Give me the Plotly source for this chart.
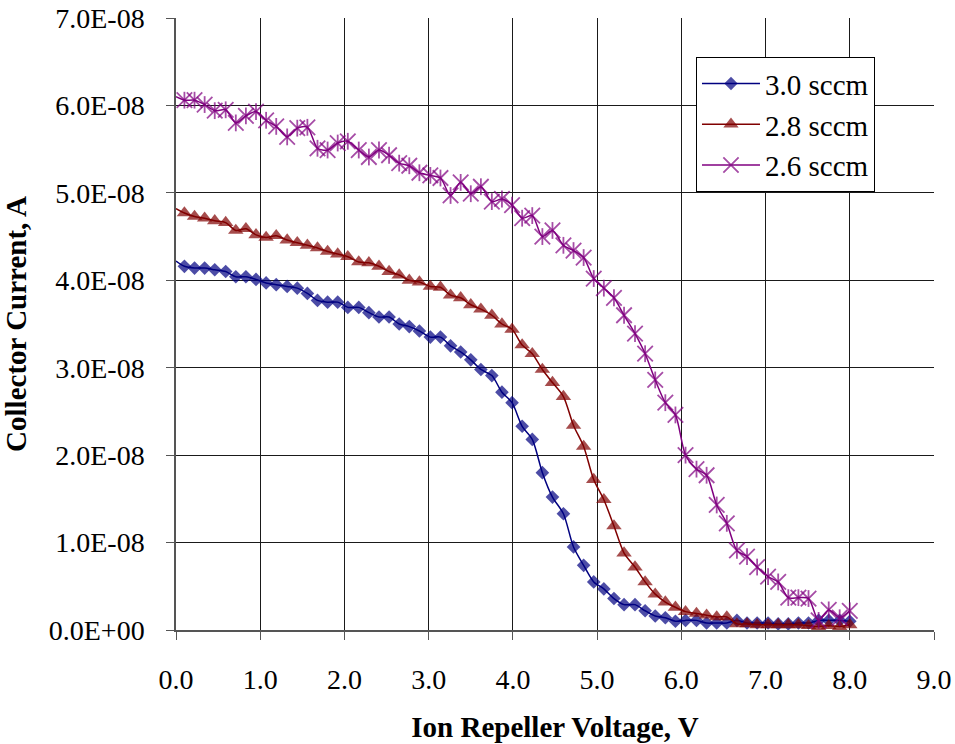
import plotly.graph_objects as go

# Ion repeller voltage (V); the leading 0.0 is the start of the smoothed line (no marker)
volts = [0.00,
         0.10, 0.22, 0.34, 0.46, 0.59, 0.71, 0.83, 0.95, 1.07, 1.19,
         1.32, 1.44, 1.56, 1.68, 1.80, 1.92, 2.04, 2.17, 2.29, 2.41,
         2.53, 2.65, 2.77, 2.89, 3.02, 3.14, 3.26, 3.38, 3.50, 3.62,
         3.75, 3.87, 3.99, 4.11, 4.23, 4.35, 4.47, 4.60, 4.72, 4.84,
         4.96, 5.08, 5.20, 5.32, 5.45, 5.57, 5.69, 5.81, 5.93, 6.05,
         6.18, 6.30, 6.42, 6.54, 6.66, 6.78, 6.90, 7.03, 7.15, 7.27,
         7.39, 7.51, 7.63, 7.75, 7.88, 8.00]

# Collector current, in units of 1e-8 A
current_30 = [4.22,
              4.16, 4.14, 4.14, 4.12, 4.10, 4.04, 4.04, 4.01, 3.97, 3.95,
              3.93, 3.91, 3.85, 3.77, 3.75, 3.75, 3.69, 3.69, 3.63, 3.58,
              3.58, 3.50, 3.47, 3.42, 3.35, 3.35, 3.25, 3.18, 3.09, 2.98,
              2.91, 2.72, 2.60, 2.33, 2.18, 1.80, 1.52, 1.33, 0.95, 0.74,
              0.55, 0.47, 0.36, 0.29, 0.29, 0.22, 0.16, 0.14, 0.10, 0.11,
              0.11, 0.08, 0.08, 0.08, 0.11, 0.08, 0.08, 0.08, 0.07, 0.07,
              0.08, 0.08, 0.11, 0.11, 0.11, 0.10]

current_28 = [4.82,
              4.77, 4.73, 4.71, 4.68, 4.66, 4.57, 4.59, 4.52, 4.49, 4.51,
              4.46, 4.43, 4.40, 4.37, 4.33, 4.30, 4.27, 4.21, 4.20, 4.16,
              4.10, 4.06, 4.00, 3.98, 3.93, 3.92, 3.83, 3.80, 3.72, 3.67,
              3.60, 3.50, 3.44, 3.26, 3.16, 2.98, 2.83, 2.67, 2.34, 2.10,
              1.72, 1.49, 1.19, 0.88, 0.72, 0.55, 0.41, 0.32, 0.26, 0.21,
              0.19, 0.17, 0.15, 0.15, 0.07, 0.07, 0.06, 0.06, 0.06, 0.06,
              0.06, 0.05, 0.04, 0.05, 0.04, 0.06]

current_26 = [6.10,
              6.06, 6.06, 6.01, 5.94, 5.95, 5.80, 5.88, 5.93, 5.83, 5.76,
              5.64, 5.74, 5.75, 5.51, 5.49, 5.57, 5.59, 5.49, 5.41, 5.49,
              5.43, 5.34, 5.31, 5.23, 5.20, 5.17, 4.97, 5.12, 4.99, 5.07,
              4.90, 4.93, 4.86, 4.71, 4.74, 4.50, 4.57, 4.40, 4.34, 4.26,
              4.02, 3.91, 3.80, 3.60, 3.39, 3.16, 2.86, 2.60, 2.46, 2.00,
              1.84, 1.77, 1.43, 1.22, 0.91, 0.84, 0.72, 0.61, 0.55, 0.37,
              0.37, 0.36, 0.11, 0.23, 0.14, 0.22]

series_names = ["3.0 sccm", "2.8 sccm", "2.6 sccm"]
y_ticks = [0, 1, 2, 3, 4, 5, 6, 7]
y_tick_labels = ["0.0E+00", "1.0E-08", "2.0E-08", "3.0E-08",
                 "4.0E-08", "5.0E-08", "6.0E-08", "7.0E-08"]
x_ticks = [0, 1, 2, 3, 4, 5, 6, 7, 8, 9]

FONT = "Liberation Serif, Times New Roman, serif"
NAVY = "#000080"
MAROON = "#800000"
PURPLE = "#800080"


def sizes(size):
    # hide the marker on the line's starting point
    return [0] + [size] * (len(volts) - 1)


def amps(vals):
    return [v * 1e-8 for v in vals]


fig = go.Figure()

fig.add_trace(go.Scatter(
    x=volts, y=amps(current_30), name=series_names[0], mode="lines+markers",
    legendgroup="a",
    line=dict(color=NAVY, width=1.5, shape="spline", smoothing=0.8),
    marker=dict(symbol="diamond", size=sizes(10.5), color=NAVY,
                line=dict(width=0)),
))
fig.add_trace(go.Scatter(
    x=volts, y=amps(current_28), name=series_names[1], mode="lines+markers",
    legendgroup="b",
    line=dict(color=MAROON, width=1.5, shape="spline", smoothing=0.8),
    marker=dict(symbol="triangle-up", size=sizes(13.5), color=MAROON,
                line=dict(width=0)),
))
fig.add_trace(go.Scatter(
    x=volts, y=amps(current_26), name=series_names[2], mode="lines+markers",
    legendgroup="c",
    line=dict(color=PURPLE, width=1.5, shape="spline", smoothing=0.8),
    marker=dict(symbol="x-thin-open", size=sizes(15.5), color=PURPLE,
                line=dict(width=1.8, color=PURPLE)),
))
# vertical stroke completing the six-armed star marker
fig.add_trace(go.Scatter(
    x=volts, y=amps(current_26), mode="markers", showlegend=False,
    legendgroup="c", hoverinfo="skip",
    marker=dict(symbol="line-ns-open", size=sizes(12), color=PURPLE,
                line=dict(width=1.8, color=PURPLE)),
))

fig.update_layout(
    width=955, height=744,
    margin=dict(l=176, r=21, t=18, b=114, autoexpand=False),
    paper_bgcolor="white", plot_bgcolor="white",
    font=dict(family=FONT, size=28, color="black"),
    showlegend=True,
    legend=dict(
        x=0.686, y=0.936, xanchor="left", yanchor="top",
        bgcolor="white", bordercolor="black", borderwidth=1,
        font=dict(family=FONT, size=29, color="black"),
        tracegroupgap=0, itemwidth=58,
    ),
    xaxis=dict(
        range=[0, 9], tickvals=x_ticks, tickformat=".1f",
        showgrid=True, gridcolor="#1a1a1a", gridwidth=1,
        showline=True, linecolor="#555555", linewidth=1.5,
        ticks="outside", ticklen=8, tickcolor="#555555",
        zeroline=False, ticklabelstandoff=16, automargin=False,
        title=dict(text="<b>Ion Repeller Voltage, V</b>",
                   font=dict(family=FONT, size=29), standoff=22),
    ),
    yaxis=dict(
        range=[0, 7e-8], tickvals=[t * 1e-8 for t in y_ticks],
        ticktext=y_tick_labels,
        showgrid=True, gridcolor="#1a1a1a", gridwidth=1,
        showline=True, linecolor="#555555", linewidth=1.5,
        ticks="outside", ticklen=8, tickcolor="#555555",
        zeroline=False, ticklabelstandoff=16, automargin=False,
        title=dict(text="<b>Collector Current, A</b>",
                   font=dict(family=FONT, size=29), standoff=18),
    ),
)

fig.write_html("out.html")
